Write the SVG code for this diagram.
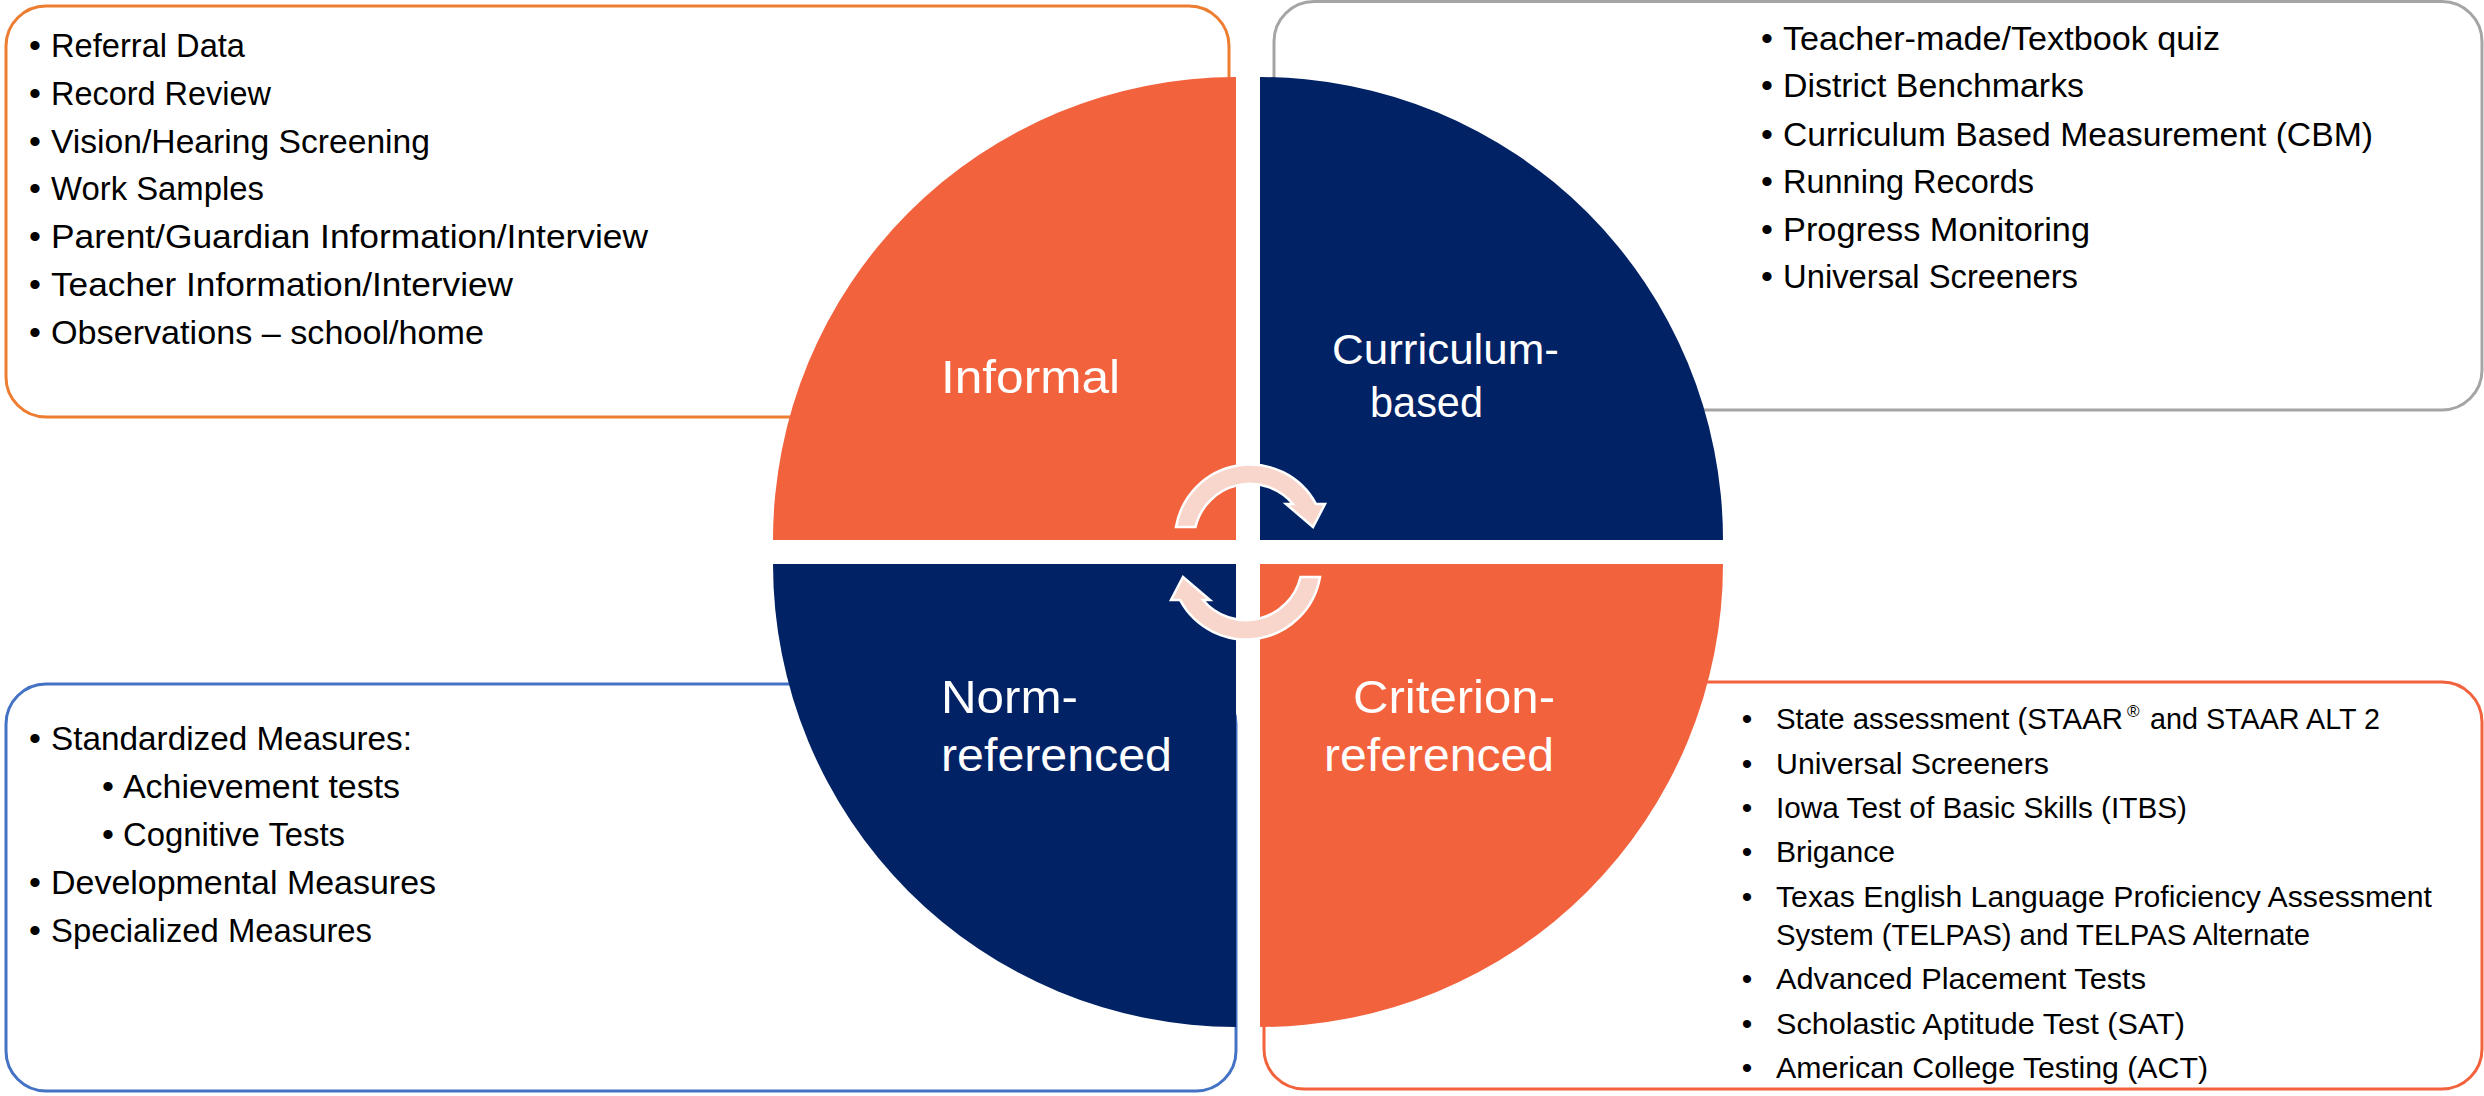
<svg xmlns="http://www.w3.org/2000/svg" width="2484" height="1096" viewBox="0 0 2484 1096">
<style>
  .box { fill: #ffffff; stroke-width: 3; }
  .orange { fill: #F2623D; }
  .navy { fill: #022266; }
  .item { font-family: "Liberation Sans", Arial, sans-serif; font-size: 34px; fill: #000000; }
  .item2 { font-family: "Liberation Sans", Arial, sans-serif; font-size: 30px; fill: #000000; }
  .bul { font-family: "Liberation Sans", Arial, sans-serif; font-size: 34px; fill: #000000; text-anchor: middle; }
  .bul2 { font-family: "Liberation Sans", Arial, sans-serif; font-size: 30px; fill: #000000; text-anchor: middle; }
  .label { font-family: "Liberation Sans", Arial, sans-serif; font-size: 47px; fill: #ffffff; }
  .arrow { fill: #F8D6CC; stroke: #ffffff; stroke-width: 2.5; stroke-linejoin: miter; }
</style>
<rect width="2484" height="1096" fill="#ffffff"/>

<!-- Text boxes (drawn beneath the quadrants) -->
<g id="box-informal">
  <rect class="box" x="6" y="6" width="1223" height="411" rx="40" ry="40" stroke="#ED7D31"/>
</g>
<g id="box-curriculum">
  <rect class="box" x="1274" y="1.5" width="1208" height="408.5" rx="40" ry="40" stroke="#A5A5A5"/>
</g>
<g id="box-norm">
  <rect class="box" x="6" y="684" width="1230" height="407" rx="40" ry="40" stroke="#4472C4"/>
</g>
<g id="box-criterion">
  <rect class="box" x="1264" y="682" width="1218" height="407" rx="40" ry="40" stroke="#F2623D"/>
</g>

<!-- Quadrants -->
<g id="node-informal">
  <path class="orange" d="M1236,540 L773,540 A463,463 0 0,1 1236,77 Z"/>
  <text class="label" x="941" y="393" textLength="179" lengthAdjust="spacingAndGlyphs">Informal</text>
</g>
<g id="node-curriculum">
  <path class="navy" d="M1260,540 L1260,77 A463,463 0 0,1 1723,540 Z"/>
  <text class="label" style="font-size:42.5px" x="1332" y="364" textLength="227" lengthAdjust="spacingAndGlyphs">Curriculum-</text>
  <text class="label" style="font-size:42.5px" x="1370" y="417" textLength="113" lengthAdjust="spacingAndGlyphs">based</text>
</g>
<g id="node-norm">
  <path class="navy" d="M1236,564 L1236,1027 A463,463 0 0,1 773,564 Z"/>
  <text class="label" x="941" y="713" textLength="137" lengthAdjust="spacingAndGlyphs">Norm-</text>
  <text class="label" x="941" y="771" textLength="231" lengthAdjust="spacingAndGlyphs">referenced</text>
</g>
<g id="node-criterion">
  <path class="orange" d="M1260,564 L1723,564 A463,463 0 0,1 1260,1027 Z"/>
  <text class="label" x="1353" y="713" textLength="202" lengthAdjust="spacingAndGlyphs">Criterion-</text>
  <text class="label" x="1324" y="771" textLength="230" lengthAdjust="spacingAndGlyphs">referenced</text>
</g>

<!-- Cycle arrows -->
<g id="connectors">
  <path class="arrow" d="M1176,527 A75,75 0 0,1 1316,504 L1325,504 L1313,527 L1286,504 L1293,504 A56,56 0 0,0 1195.5,527 Z"/>
  <path class="arrow" d="M1320,577 A75,75 0 0,1 1180,600 L1171,600 L1183,577 L1210,600 L1203,600 A56,56 0 0,0 1300.5,577 Z"/>
</g>

<!-- Informal list -->
<g id="list-informal">
  <text class="bul" x="35" y="57">•</text>
  <text class="item" x="51" y="57" textLength="194" lengthAdjust="spacingAndGlyphs">Referral Data</text>
  <text class="bul" x="35" y="105">•</text>
  <text class="item" x="51" y="105" textLength="220" lengthAdjust="spacingAndGlyphs">Record Review</text>
  <text class="bul" x="35" y="153">•</text>
  <text class="item" x="51" y="153" textLength="379" lengthAdjust="spacingAndGlyphs">Vision/Hearing Screening</text>
  <text class="bul" x="35" y="200">•</text>
  <text class="item" x="51" y="200" textLength="213" lengthAdjust="spacingAndGlyphs">Work Samples</text>
  <text class="bul" x="35" y="248">•</text>
  <text class="item" x="51" y="248" textLength="597" lengthAdjust="spacingAndGlyphs">Parent/Guardian Information/Interview</text>
  <text class="bul" x="35" y="296">•</text>
  <text class="item" x="51" y="296" textLength="462" lengthAdjust="spacingAndGlyphs">Teacher Information/Interview</text>
  <text class="bul" x="35" y="344">•</text>
  <text class="item" x="51" y="344" textLength="433" lengthAdjust="spacingAndGlyphs">Observations – school/home</text>
</g>

<!-- Curriculum-based list -->
<g id="list-curriculum">
  <text class="bul" x="1767" y="50">•</text>
  <text class="item" x="1783" y="50" textLength="437" lengthAdjust="spacingAndGlyphs">Teacher-made/Textbook quiz</text>
  <text class="bul" x="1767" y="97">•</text>
  <text class="item" x="1783" y="97" textLength="301" lengthAdjust="spacingAndGlyphs">District Benchmarks</text>
  <text class="bul" x="1767" y="146">•</text>
  <text class="item" x="1783" y="146" textLength="590" lengthAdjust="spacingAndGlyphs">Curriculum Based Measurement (CBM)</text>
  <text class="bul" x="1767" y="193">•</text>
  <text class="item" x="1783" y="193" textLength="251" lengthAdjust="spacingAndGlyphs">Running Records</text>
  <text class="bul" x="1767" y="241">•</text>
  <text class="item" x="1783" y="241" textLength="307" lengthAdjust="spacingAndGlyphs">Progress Monitoring</text>
  <text class="bul" x="1767" y="288">•</text>
  <text class="item" x="1783" y="288" textLength="295" lengthAdjust="spacingAndGlyphs">Universal Screeners</text>
</g>

<!-- Norm-referenced list -->
<g id="list-norm">
  <text class="bul" x="35" y="750">•</text>
  <text class="item" x="51" y="750" textLength="361" lengthAdjust="spacingAndGlyphs">Standardized Measures:</text>
  <text class="bul" x="108" y="798">•</text>
  <text class="item" x="123" y="798" textLength="277" lengthAdjust="spacingAndGlyphs">Achievement tests</text>
  <text class="bul" x="108" y="846">•</text>
  <text class="item" x="123" y="846" textLength="222" lengthAdjust="spacingAndGlyphs">Cognitive Tests</text>
  <text class="bul" x="35" y="894">•</text>
  <text class="item" x="51" y="894" textLength="385" lengthAdjust="spacingAndGlyphs">Developmental Measures</text>
  <text class="bul" x="35" y="942">•</text>
  <text class="item" x="51" y="942" textLength="321" lengthAdjust="spacingAndGlyphs">Specialized Measures</text>
</g>

<!-- Criterion-referenced list -->
<g id="list-criterion">
  <text class="bul2" x="1747" y="729">•</text>
  <text class="item2" x="1776" y="729" textLength="347" lengthAdjust="spacingAndGlyphs">State assessment (STAAR</text>
  <text class="item2" style="font-size:17px" x="2127" y="717">®</text>
  <text class="item2" x="2150" y="729" textLength="230" lengthAdjust="spacingAndGlyphs">and STAAR ALT 2</text>
  <text class="bul2" x="1747" y="774">•</text>
  <text class="item2" x="1776" y="774" textLength="273" lengthAdjust="spacingAndGlyphs">Universal Screeners</text>
  <text class="bul2" x="1747" y="818">•</text>
  <text class="item2" x="1776" y="818" textLength="411" lengthAdjust="spacingAndGlyphs">Iowa Test of Basic Skills (ITBS)</text>
  <text class="bul2" x="1747" y="862">•</text>
  <text class="item2" x="1776" y="862" textLength="119" lengthAdjust="spacingAndGlyphs">Brigance</text>
  <text class="bul2" x="1747" y="907">•</text>
  <text class="item2" x="1776" y="907" textLength="656" lengthAdjust="spacingAndGlyphs">Texas English Language Proficiency Assessment</text>
  <text class="item2" x="1776" y="945" textLength="534" lengthAdjust="spacingAndGlyphs">System (TELPAS) and TELPAS Alternate</text>
  <text class="bul2" x="1747" y="989">•</text>
  <text class="item2" x="1776" y="989" textLength="370" lengthAdjust="spacingAndGlyphs">Advanced Placement Tests</text>
  <text class="bul2" x="1747" y="1034">•</text>
  <text class="item2" x="1776" y="1034" textLength="409" lengthAdjust="spacingAndGlyphs">Scholastic Aptitude Test (SAT)</text>
  <text class="bul2" x="1747" y="1078">•</text>
  <text class="item2" x="1776" y="1078" textLength="432" lengthAdjust="spacingAndGlyphs">American College Testing (ACT)</text>
</g>
</svg>
